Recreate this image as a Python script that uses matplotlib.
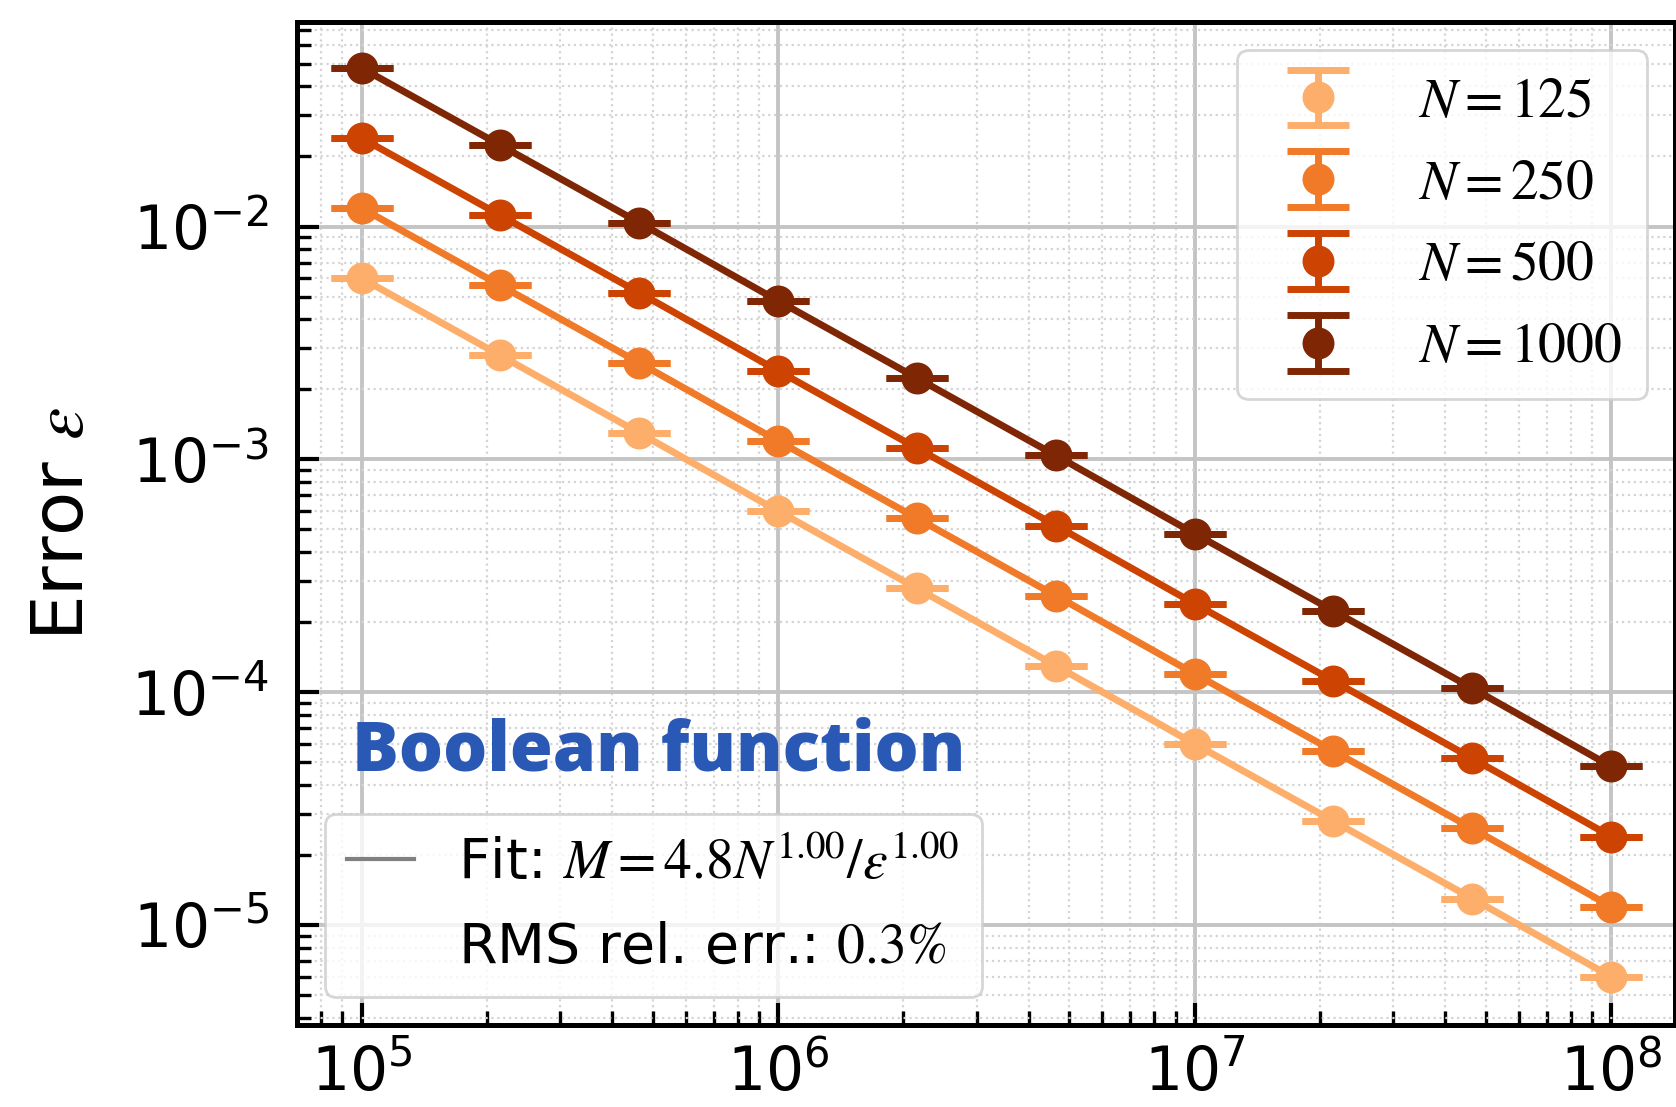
import matplotlib
matplotlib.use("Agg")
import matplotlib.pyplot as plt
from matplotlib.lines import Line2D
from matplotlib.patches import Rectangle
from matplotlib.ticker import LogLocator, NullFormatter

plt.rcParams["mathtext.fontset"] = "stix"
plt.rcParams["font.family"] = ["DejaVu Sans"]

# Sample budget M (x) and measured error for each system size N
samples = [1e5, 2.15e5, 4.64e5, 1e6, 2.15e6, 4.64e6, 1e7, 2.15e7, 4.64e7, 1e8]
sizes = [125, 250, 500, 1000]
err_n125 = [6.0e-3, 2.8e-3, 1.3e-3, 6.0e-4, 2.8e-4, 1.3e-4, 6.0e-5, 2.8e-5, 1.3e-5, 6.0e-6]
err_n250 = [1.2e-2, 5.6e-3, 2.6e-3, 1.2e-3, 5.6e-4, 2.6e-4, 1.2e-4, 5.6e-5, 2.6e-5, 1.2e-5]
err_n500 = [2.4e-2, 1.12e-2, 5.2e-3, 2.4e-3, 1.12e-3, 5.2e-4, 2.4e-4, 1.12e-4, 5.2e-5, 2.4e-5]
err_n1000 = [4.8e-2, 2.24e-2, 1.04e-2, 4.8e-3, 2.24e-3, 1.04e-3, 4.8e-4, 2.24e-4, 1.04e-4, 4.8e-5]
errors = [err_n125, err_n250, err_n500, err_n1000]
colors = ["#fdae6b", "#f07a28", "#cc4302", "#7f2704"]

fit_label = r"Fit: $M=4.8N^{1.00}/\varepsilon^{1.00}$"
rms_label = r"RMS rel. err.: $0.3\%$"
panel_title = "Boolean function"

fig = plt.figure(figsize=(8.38, 5.535), dpi=200)
ax = fig.add_axes([0.1772, 0.074, 0.822, 0.906])

handles = []
for n, err, c in zip(sizes, errors, colors):
    # connecting line through the points
    ax.plot(samples, err, color=c, lw=2.5, zorder=2)
    # points with their (narrow) error bars and wide caps
    h = ax.errorbar(samples, err, yerr=0.0, fmt="o", color=c, markersize=10.5,
                    capsize=11, capthick=2.5, elinewidth=2.5,
                    label=rf"$N={n}$", zorder=3)
    handles.append(h)

ax.set_xscale("log")
ax.set_yscale("log")
ax.set_xlim(7.0e4, 1.42e8)
ax.set_ylim(3.72e-6, 7.55e-2)

ax.xaxis.set_minor_locator(LogLocator(base=10, subs=range(2, 10), numticks=20))
ax.yaxis.set_minor_locator(LogLocator(base=10, subs=range(2, 10), numticks=20))
ax.xaxis.set_minor_formatter(NullFormatter())
ax.yaxis.set_minor_formatter(NullFormatter())

ax.grid(True, which="major", color="#c4c4c4", lw=1.4, ls="-", zorder=0)
ax.grid(True, which="minor", color="#d4d4d4", lw=0.8, ls=":", zorder=0)
ax.set_axisbelow(True)

ax.tick_params(which="major", direction="in", length=8, width=1.5, labelsize=21.5,
               top=False, right=False)
ax.tick_params(which="minor", direction="in", length=5, width=1.2,
               top=False, right=False)
ax.tick_params(axis="x", which="major", pad=7)
ax.tick_params(axis="y", which="major", pad=10)
for sp in ax.spines.values():
    sp.set_linewidth(1.8)

ax.set_ylabel(r"Error $\varepsilon$", fontsize=26, labelpad=12)

leg1 = ax.legend(handles=handles, loc="upper right", fontsize=20,
                 labelspacing=0.5, handlelength=2.0, borderpad=0.45,
                 fancybox=True, edgecolor="#cccccc")
ax.add_artist(leg1)

fit_handle = Line2D([], [], color="#808080", lw=1.5)
blank = Rectangle((0, 0), 1, 1, fill=False, edgecolor="none", visible=False)
leg2 = ax.legend(handles=[fit_handle, blank], labels=[fit_label, rms_label],
                 loc="lower left", fontsize=20,
                 handlelength=1.2, handletextpad=0.8, labelspacing=0.55,
                 fancybox=True, edgecolor="#cccccc")

ax.text(0.040, 0.272, panel_title, transform=ax.transAxes, fontsize=25,
        fontweight="heavy", family="Open Sans", color="#2a58b5",
        va="center", ha="left")

fig.savefig("out.png", dpi=200)
